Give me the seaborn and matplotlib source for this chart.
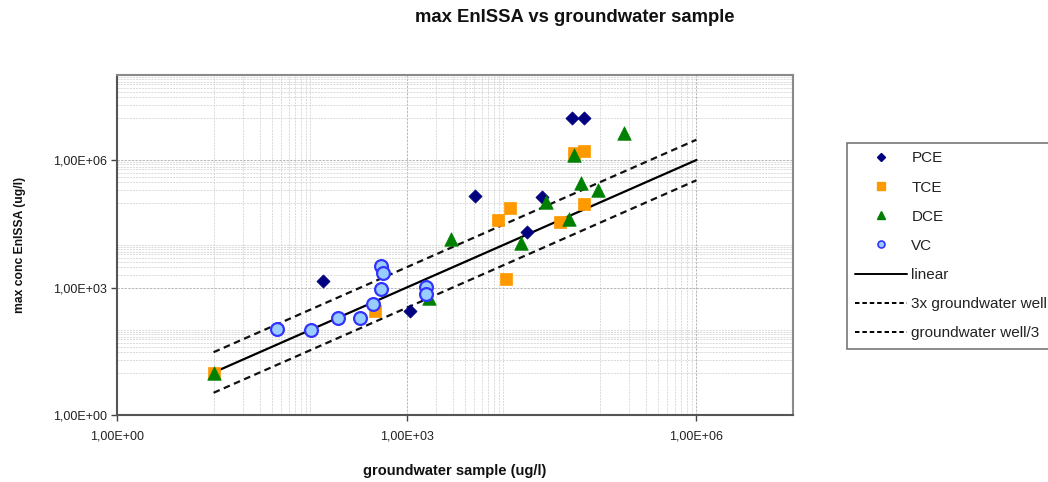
import numpy as np
import pandas as pd
import matplotlib
matplotlib.use("Agg")
import matplotlib.pyplot as plt
from matplotlib.ticker import FixedLocator, NullFormatter
from matplotlib.lines import Line2D
import seaborn as sns

# ---- data ----
pce_x = [136, 1092, 5140, 25300, 17600, 51300, 68300]
pce_y = [1445, 285, 1.45e5, 1.37e5, 19900, 9.55e6, 1.0e7]

tce_x = [10, 466, 8800, 11620, 10750, 38800, 67800, 53800, 68300]
tce_y = [10, 285, 38700, 73000, 1585, 35400, 90600, 1.44e6, 1.66e6]

dce_x = [10, 1700, 2900, 15400, 27900, 47800, 64100, 95300, 53800, 1.76e5]
dce_y = [10, 556, 13600, 11300, 1.04e5, 40200, 2.83e5, 1.97e5, 1.31e6, 4.25e6]

vc_x = [45, 102, 192, 326, 449, 538, 565, 538, 1599, 1599]
vc_y = [104, 100, 188, 188, 409, 3206, 2158, 937, 1011, 703]

line_x = [10, 1e6]
line_factors = {"linear": 1.0, "3x groundwater well": 3.0, "groundwater well/3": 1 / 3}

tick_vals = [1, 1e3, 1e6]
tick_labels = ["1,00E+00", "1,00E+03", "1,00E+06"]

title = "max EnISSA vs groundwater sample"
xlabel = "groundwater sample (ug/l)"
ylabel = "max conc EnISSA (ug/l)"

# ---- styling ----
sns.set_theme(style="white")
plt.rcParams["font.family"] = ["Liberation Sans", "DejaVu Sans"]

fig = plt.figure(figsize=(10.48, 4.82), dpi=100)
ax = fig.add_axes([117 / 1048, 1 - 415 / 482, 676 / 1048, 340 / 482])

ax.set_xscale("log")
ax.set_yscale("log")
ax.set_xlim(1, 1e7)
ax.set_ylim(1, 1e8)

# grid: every decade, plus sub-divisions in odd decades
def grid_positions(nmax):
    pos = []
    for d in range(0, nmax + 1):
        pos.append(10.0 ** d)
        if d % 2 == 1 and d < nmax:
            pos.extend([k * 10.0 ** d for k in range(2, 10)])
    return pos

ax.xaxis.set_minor_locator(FixedLocator(grid_positions(7)))
ax.yaxis.set_minor_locator(FixedLocator(grid_positions(8)))
ax.xaxis.set_minor_formatter(NullFormatter())
ax.yaxis.set_minor_formatter(NullFormatter())
ax.xaxis.set_major_locator(FixedLocator(tick_vals))
ax.yaxis.set_major_locator(FixedLocator(tick_vals))
ax.set_xticklabels(tick_labels)
ax.set_yticklabels(tick_labels)
ax.grid(True, which="minor", color="#d6d6d6", linestyle=(0, (2.5, 1.2)), linewidth=0.6)
ax.grid(True, which="major", color="#b8b8b8", linestyle=(0, (2.5, 1.2)), linewidth=0.7)
ax.set_axisbelow(True)
ax.tick_params(which="minor", length=0)
ax.tick_params(axis="both", which="major", length=4, width=1, color="#444444", direction="out",
               labelsize=9, labelcolor="#222222", bottom=True, left=True)
ax.tick_params(axis="x", which="major", pad=7)
ax.tick_params(axis="y", which="major", pad=3)

for s in ax.spines.values():
    s.set_color("#8a8a8a")
    s.set_linewidth(1.5)
ax.spines["left"].set_color("#555555")
ax.spines["bottom"].set_color("#555555")

# ---- lines ----
lines_df = pd.concat(
    [pd.DataFrame({"x": line_x, "y": [v * f for v in line_x], "name": n})
     for n, f in line_factors.items()]
)
sns.lineplot(data=lines_df[lines_df.name == "linear"], x="x", y="y", ax=ax,
             color="black", linewidth=1.6, legend=False)
for n in ["3x groundwater well", "groundwater well/3"]:
    sns.lineplot(data=lines_df[lines_df.name == n], x="x", y="y", ax=ax,
                 color="#111111", linewidth=1.6, linestyle=(0, (3, 2)), legend=False)

# ---- scatter ----
sns.scatterplot(x=pce_x, y=pce_y, ax=ax, marker="D", s=45, color="#000080",
                edgecolor="#000080", linewidth=0.5, zorder=4)
sns.scatterplot(x=tce_x, y=tce_y, ax=ax, marker="s", s=85, color="#FF9900",
                edgecolor="#FF9900", linewidth=0.5, zorder=3)
sns.scatterplot(x=dce_x, y=dce_y, ax=ax, marker="^", s=95, color="#008000",
                edgecolor="#008000", linewidth=0.5, zorder=4)
sns.scatterplot(x=vc_x, y=vc_y, ax=ax, marker="o", s=85, color="#99CCFF",
                edgecolor="#3333FF", linewidth=1.6, zorder=5)

# ---- legend ----
handles = [
    Line2D([], [], linestyle="none", marker="D", markersize=4, color="#000080"),
    Line2D([], [], linestyle="none", marker="s", markersize=5.5, color="#FF9900"),
    Line2D([], [], linestyle="none", marker="^", markersize=6, color="#008000"),
    Line2D([], [], linestyle="none", marker="o", markersize=5, markerfacecolor="#99CCFF",
           markeredgecolor="#3333FF", markeredgewidth=1.2),
    Line2D([], [], color="black", linewidth=1.4),
    Line2D([], [], color="black", linewidth=1.4, linestyle=(0, (2.3, 1.5))),
    Line2D([], [], color="black", linewidth=1.4, linestyle=(0, (2.3, 1.5))),
]
labels = ["PCE", "TCE", "DCE", "VC", "linear", "3x groundwater well", "groundwater well/3"]
leg = ax.legend(handles, labels, loc="upper left",
                bbox_to_anchor=(847 / 1048, 1 - 143 / 482), bbox_transform=fig.transFigure,
                prop={"family": ["Liberation Sans"], "size": 11},
                frameon=True, fancybox=False, framealpha=1,
                edgecolor="#777777", labelspacing=0.99, handlelength=3.4,
                handletextpad=0.26, borderpad=0.55, borderaxespad=0)
leg.get_frame().set_linewidth(1.2)
for t in leg.get_texts():
    t.set_color("#222222")

# ---- texts ----
fig.text(575 / 1048, 1 - 18 / 482, title, ha="center", va="center",
         fontsize=13.3, fontweight="bold", color="#111111")
ax.set_xlabel(xlabel, fontsize=10.5, fontweight="bold", color="#111111")
ax.set_ylabel(ylabel, fontsize=8.7, fontweight="bold", color="#111111")
ax.xaxis.set_label_coords(0.5, -0.145)
ax.yaxis.set_label_coords(-0.135, 0.5)

fig.savefig("out.png", dpi=100)
